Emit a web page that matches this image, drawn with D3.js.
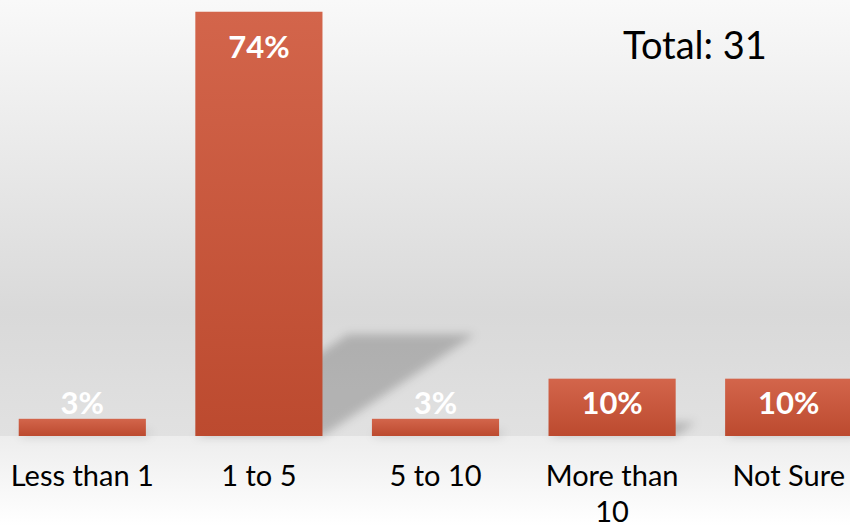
<!DOCTYPE html>
<html>
<head>
<meta charset="utf-8">
<script src="https://cdn.jsdelivr.net/npm/d3@7/dist/d3.min.js"></script>
<style>
  html, body { margin: 0; padding: 0; background: #fff; }
  svg { display: block; }
</style>
</head>
<body>
<div id="chart"></div>
<script>
// Survey results: share of responses per answer
const categories = ["Less than 1", "1 to 5", "5 to 10", "More than 10", "Not Sure"];
const percents = [3, 74, 3, 10, 10];
const totalResponses = 31;

const width = 850, height = 526;
const baseY = 436;

const svg = d3.select("#chart").append("svg")
  .attr("width", width)
  .attr("height", height);

const defs = svg.append("defs");

// wall gradient behind the bars
const wall = defs.append("linearGradient").attr("id", "wall")
  .attr("x1", 0).attr("y1", 0).attr("x2", 0).attr("y2", 1);
wall.append("stop").attr("offset", 0).attr("stop-color", "#f9f9f9");
wall.append("stop").attr("offset", 0.72).attr("stop-color", "#d9d9d9");
wall.append("stop").attr("offset", 1).attr("stop-color", "#e1e1e1");

// floor gradient below the baseline
const floor = defs.append("linearGradient").attr("id", "floor")
  .attr("x1", 0).attr("y1", 0).attr("x2", 0).attr("y2", 1);
floor.append("stop").attr("offset", 0).attr("stop-color", "#ededed");
floor.append("stop").attr("offset", 1).attr("stop-color", "#ffffff");

// bar fill gradient
const barGrad = defs.append("linearGradient").attr("id", "barGrad")
  .attr("x1", 0).attr("y1", 0).attr("x2", 0).attr("y2", 1);
barGrad.append("stop").attr("offset", 0).attr("stop-color", "#d3654b");
barGrad.append("stop").attr("offset", 1).attr("stop-color", "#bc4a2f");

// soft blur for the cast shadows
defs.append("filter").attr("id", "shadowBlur")
  .attr("x", "-30%").attr("y", "-30%").attr("width", "160%").attr("height", "160%")
  .append("feGaussianBlur").attr("stdDeviation", 5);

svg.append("rect").attr("x", 0).attr("y", 0)
  .attr("width", width).attr("height", baseY)
  .attr("fill", "url(#wall)");
svg.append("rect").attr("x", 0).attr("y", baseY)
  .attr("width", width).attr("height", height - baseY)
  .attr("fill", "url(#floor)");

const x = d3.scaleBand()
  .domain(categories)
  .range([-6, 877])
  .paddingInner(0.28)
  .paddingOuter(0.14);

const y = d3.scaleLinear()
  .domain([0, 75])
  .range([baseY, 6]);

const data = categories.map((c, i) => ({ cat: c, value: percents[i] }));

// perspective shadows cast up and to the right
const shadowScale = 0.24, shadowSkew = 1.5;
svg.append("g")
  .attr("filter", "url(#shadowBlur)")
  .selectAll("path")
  .data(data)
  .join("path")
  .attr("fill", "#000")
  .attr("fill-opacity", 0.2)
  .attr("d", d => {
    const x0 = x(d.cat), x1 = x0 + x.bandwidth();
    const h = (baseY - y(d.value)) * shadowScale;
    const s = h * shadowSkew;
    return `M${x0},${baseY}L${x1},${baseY}L${x1 + s},${baseY - h}L${x0 + s},${baseY - h}Z`;
  });

// bars
svg.append("g")
  .selectAll("rect")
  .data(data)
  .join("rect")
  .attr("x", d => x(d.cat))
  .attr("y", d => y(d.value))
  .attr("width", x.bandwidth())
  .attr("height", d => baseY - y(d.value))
  .attr("fill", "url(#barGrad)");

// value labels near the top of each bar
svg.append("g")
  .selectAll("text")
  .data(data)
  .join("text")
  .attr("x", d => x(d.cat) + x.bandwidth() / 2)
  .attr("y", d => Math.min(y(d.value) + 46, baseY - 22))
  .attr("text-anchor", "middle")
  .attr("font-family", "Lato, 'Open Sans', sans-serif")
  .attr("font-weight", "bold")
  .attr("font-size", 31)
  .attr("fill", "#ffffff")
  .text(d => d.value + "%");

// category labels, wrapped when wider than the slot
const labelWidth = x.step() * 0.9;
const catLabels = svg.append("g")
  .selectAll("text")
  .data(data)
  .join("text")
  .attr("x", d => x(d.cat) + x.bandwidth() / 2)
  .attr("y", 486)
  .attr("text-anchor", "middle")
  .attr("font-family", "Lato, 'Open Sans', sans-serif")
  .attr("font-size", 29)
  .attr("fill", "#000000");

catLabels.each(function(d) {
  const t = d3.select(this);
  const cx = +t.attr("x");
  const words = d.cat.split(" ");
  let line = [];
  let tspan = t.append("tspan").attr("x", cx).attr("dy", 0);
  words.forEach(w => {
    line.push(w);
    tspan.text(line.join(" "));
    if (tspan.node().getComputedTextLength() > labelWidth && line.length > 1) {
      line.pop();
      tspan.text(line.join(" "));
      line = [w];
      tspan = t.append("tspan").attr("x", cx).attr("dy", 36).text(w);
    }
  });
});

// total count
svg.append("text")
  .attr("x", 695)
  .attr("y", 59)
  .attr("text-anchor", "middle")
  .attr("font-family", "Lato, 'Open Sans', sans-serif")
  .attr("font-size", 38)
  .attr("fill", "#000000")
  .text("Total: " + totalResponses);
</script>
</body>
</html>
